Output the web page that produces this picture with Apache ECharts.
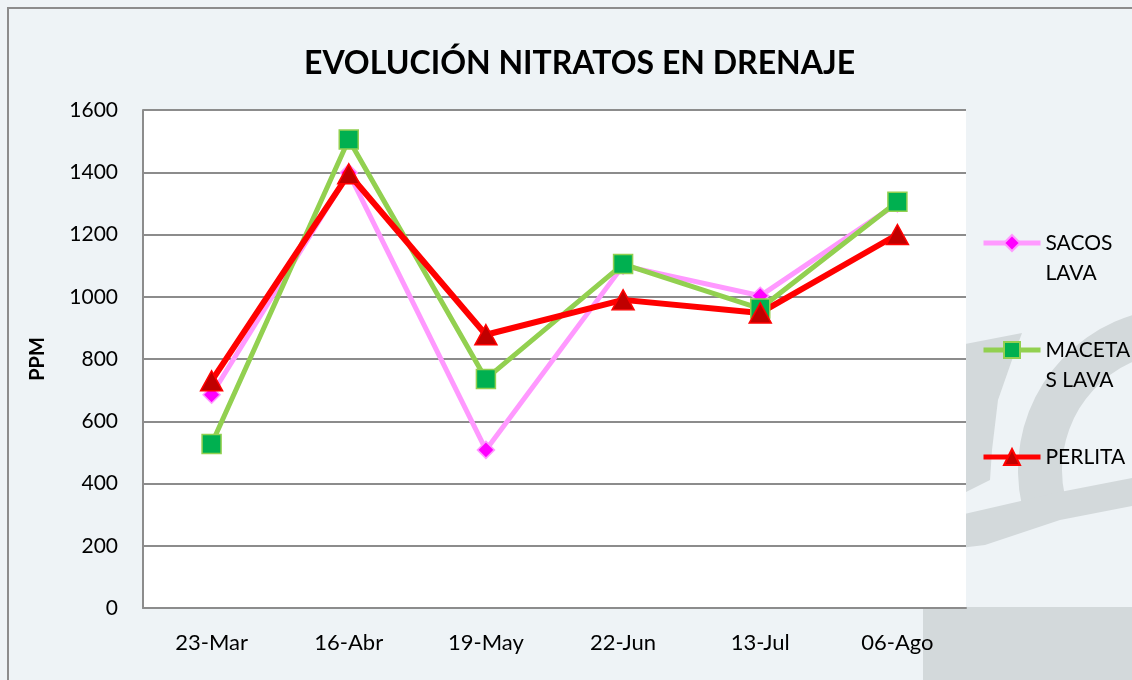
<!DOCTYPE html>
<html>
<head>
<meta charset="utf-8">
<script src="https://cdn.jsdelivr.net/npm/echarts@6/dist/echarts.min.js"></script>
<style>
html,body{margin:0;padding:0;background:#eef3f6;}
#chart{width:1132px;height:680px;}
</style>
</head>
<body>
<div id="chart"></div>
<script>
const categories = ['23-Mar', '16-Abr', '19-May', '22-Jun', '13-Jul', '06-Ago'];
const sacosLava = [685, 1398, 508, 1100, 1003, 1300];
const macetasLava = [527, 1505, 736, 1105, 962, 1305];
const perlita = [730, 1395, 878, 990, 948, 1200];
const seriesNames = ['SACOS LAVA', 'MACETAS LAVA', 'PERLITA'];
const legendLabels = {'SACOS LAVA': '\nSACOS\nLAVA', 'MACETAS LAVA': '\nMACETA\nS LAVA', 'PERLITA': '\nPERLITA\n'};

const chart = echarts.init(document.getElementById('chart'), null, {renderer: 'canvas'});
const wm = '#d3d9db';
const font = 'Lato, "Open Sans", sans-serif';
chart.setOption({
  backgroundColor: '#eef3f6',
  animation: false,
  graphic: {
    elements: [
      {type: 'sector', z: -10, shape: {cx: 1180, cy: 470, r: 162, r0: 118, startAngle: Math.PI * 0.93, endAngle: Math.PI * 2.05}, style: {fill: wm}},
      {type: 'polygon', z: -10, shape: {points: [[960, 345], [1022, 333], [1012, 360], [998, 400], [992, 450], [990, 480], [960, 495]]}, style: {fill: wm}},
      {type: 'polygon', z: -10, shape: {points: [[960, 515], [1060, 492], [1132, 478], [1132, 506], [1060, 520], [985, 545], [960, 548]]}, style: {fill: wm}},
      {type: 'rect', z: -10, shape: {x: 923, y: 607, width: 220, height: 80}, style: {fill: wm}},
      {type: 'rect', z: 100, shape: {x: 8, y: 8, width: 1300, height: 900}, style: {fill: 'none', stroke: '#8c8c8c', lineWidth: 2}}
    ]
  },
  title: {
    text: 'EVOLUCIÓN NITRATOS EN DRENAJE',
    left: 299,
    top: 43,
    textStyle: {fontFamily: font, fontWeight: 'bold', fontSize: 32, color: '#000'}
  },
  legend: {
    orient: 'vertical',
    left: 981,
    top: 198,
    padding: 0,
    itemWidth: 57,
    itemHeight: 20,
    itemGap: 17,
    data: seriesNames,
    formatter: n => legendLabels[n],
    lineStyle: {width: 5},
    textStyle: {fontFamily: font, fontSize: 21, color: '#000', lineHeight: 30}
  },
  grid: {
    left: 143, right: 166, top: 110, bottom: 72,
    show: true, backgroundColor: '#ffffff', borderWidth: 0
  },
  xAxis: {
    type: 'category',
    data: categories,
    boundaryGap: true,
    axisLine: {lineStyle: {color: '#8c8c8c', width: 2}},
    axisTick: {show: false},
    axisLabel: {fontFamily: font, fontSize: 22, color: '#000', margin: 24}
  },
  yAxis: {
    type: 'value',
    min: 0, max: 1600, interval: 200,
    name: 'PPM',
    nameLocation: 'middle',
    nameGap: 95,
    nameTextStyle: {fontFamily: font, fontWeight: 'bold', fontSize: 20, color: '#000'},
    axisLine: {show: true, lineStyle: {color: '#8c8c8c', width: 2}},
    axisTick: {show: false},
    splitLine: {lineStyle: {color: '#8c8c8c', width: 2}},
    axisLabel: {fontFamily: font, fontSize: 21, color: '#000', margin: 25, formatter: v => String(v)}
  },
  series: [
    {
      name: seriesNames[0], type: 'line', data: sacosLava,
      symbol: 'diamond', symbolSize: 17,
      lineStyle: {color: '#ff99ff', width: 5},
      itemStyle: {color: '#ff00ff', borderColor: '#ff99ff', borderWidth: 1.5}
    },
    {
      name: seriesNames[1], type: 'line', data: macetasLava,
      symbol: 'rect', symbolSize: 19,
      lineStyle: {color: '#92d050', width: 5},
      itemStyle: {color: '#00b050', borderColor: '#92d050', borderWidth: 1.5}
    },
    {
      name: seriesNames[2], type: 'line', data: perlita,
      symbol: 'triangle', symbolSize: [22, 20],
      lineStyle: {color: '#ff0000', width: 6},
      itemStyle: {color: '#c00000', borderColor: '#ff0000', borderWidth: 1.5}
    }
  ]
});
</script>
</body>
</html>
